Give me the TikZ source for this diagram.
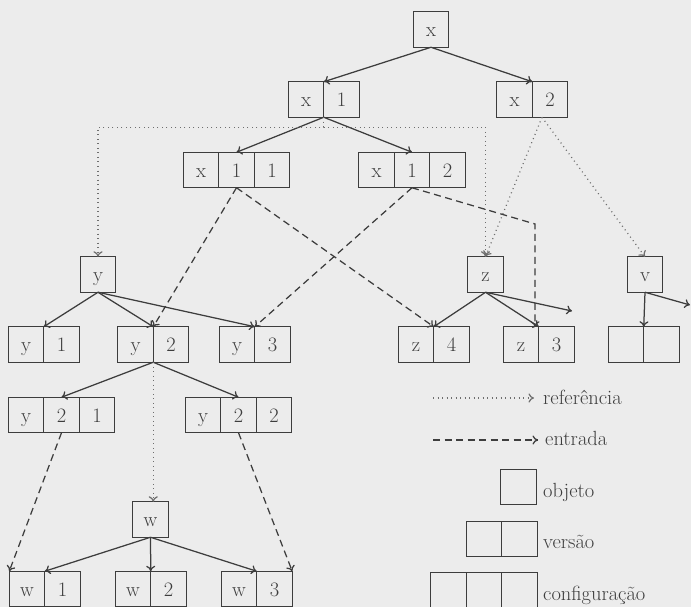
\documentclass[tikz,border=0pt]{standalone}
\usetikzlibrary{arrows.meta,calc}
\definecolor{paper}{gray}{0.925}
\definecolor{ink}{gray}{0.24}
\newcommand\cellfont{\fontsize{20.5}{24}\selectfont}
\begin{document}
\begin{tikzpicture}[x=1pt,y=-1pt,
  cell/.style={draw=ink, line width=1.4pt, minimum width=35.5pt, minimum height=35.5pt,
    inner sep=0pt, outer sep=0pt, text=ink, font=\cellfont, text height=14.4pt, text depth=0pt},
  nextcell/.style={cell, anchor=west},
  lbl/.style={anchor=base west, inner sep=0pt, text=ink, font=\cellfont},
  link/.style={draw=ink, line width=1.25pt, -{To[length=5.5pt,width=9pt]}},
  entry/.style={link, dash pattern=on 7pt off 4.5pt},
  refline/.style={link, draw=ink!75, line width=1.2pt, dash pattern=on 1pt off 3.5pt}]
\fill[paper] (0,0) rectangle (691,607);
\useasboundingbox (0,0) rectangle (691,607);

% object x, its versions and configurations
\node[cell] (x) at (431,29.5) {x};
\node[cell] (x1a) at (306,99.5) {x};   \node[nextcell] (x1b) at (x1a.east) {1};
\node[cell] (x2a) at (514.5,99.5) {x}; \node[nextcell] (x2b) at (x2a.east) {2};
\node[cell] (x11a) at (201,170) {x};   \node[nextcell] (x11b) at (x11a.east) {1};
\node[nextcell] (x11c) at (x11b.east) {1};
\node[cell] (x12a) at (376.5,170) {x}; \node[nextcell] (x12b) at (x12a.east) {1};
\node[nextcell] (x12c) at (x12b.east) {2};

% object y
\node[cell] (y) at (98,274.5) {y};
\node[cell] (y1a) at (26,344.5) {y};    \node[nextcell] (y1b) at (y1a.east) {1};
\node[cell] (y2a) at (135.5,344.5) {y}; \node[nextcell] (y2b) at (y2a.east) {2};
\node[cell] (y3a) at (237,344.5) {y};   \node[nextcell] (y3b) at (y3a.east) {3};
\node[cell] (y21a) at (26,415) {y};     \node[nextcell] (y21b) at (y21a.east) {2};
\node[nextcell] (y21c) at (y21b.east) {1};
\node[cell] (y22a) at (203,415) {y};    \node[nextcell] (y22b) at (y22a.east) {2};
\node[nextcell] (y22c) at (y22b.east) {2};

% object w
\node[cell] (w) at (150.5,519.5) {w};
\node[cell] (w1a) at (27,589) {w};  \node[nextcell] (w1b) at (w1a.east) {1};
\node[cell] (w2a) at (133,589) {w}; \node[nextcell] (w2b) at (w2a.east) {2};
\node[cell] (w3a) at (239,589) {w}; \node[nextcell] (w3b) at (w3a.east) {3};

% objects z and v
\node[cell] (z) at (485.5,274.5) {z};
\node[cell] (z4a) at (416,344.5) {z}; \node[nextcell] (z4b) at (z4a.east) {4};
\node[cell] (z3a) at (521,344.5) {z}; \node[nextcell] (z3b) at (z3a.east) {3};
\node[cell] (v) at (645,274.5) {v};
\node[cell] (vva) at (626,344.5) {}; \node[nextcell] (vvb) at (vva.east) {};

% legend
\coordinate (r0) at (433,398); \coordinate (r1) at (534,398);
\coordinate (e0) at (433,440); \coordinate (e1) at (538,440);
\node[lbl] (lref) at (543,404) {referência};
\node[lbl] (lent) at (545,445) {entrada};
\node[cell] (obj) at (518.5,487) {};
\node[lbl] (lobj) at (543,497) {objeto};
\node[cell] (vera) at (484,539) {}; \node[nextcell] (verb) at (vera.east) {};
\node[lbl] (lver) at (543,548) {versão};
\node[cell] (cfa) at (448.5,590.5) {}; \node[nextcell] (cfb) at (cfa.east) {};
\node[nextcell] (cfc) at (cfb.east) {};
\node[lbl] (lcf) at (543,600) {configuração};
\draw[refline] (r0) -- (r1);
\draw[entry] (e0) -- (e1);

% derivation arrows
\draw[link] (x.south) -- (x1a.north east);
\draw[link] (x.south) -- (x2a.north east);
\draw[link] (x1a.south east) -- (x11b.north);
\draw[link] (x1a.south east) -- (x12b.north);
\draw[link] (y.south) -- (y1a.north east);
\draw[link] (y.south) -- (y2a.north east);
\draw[link] (y.south) -- (y3a.north east);
\draw[link] (y2a.south east) -- (y21b.north);
\draw[link] (y2a.south east) -- (y22b.north);
\draw[link] (w.south) -- (w1a.north east);
\draw[link] (w.south) -- (w2a.north east);
\draw[link] (w.south) -- (w3a.north east);
\draw[link] (z.south) -- (z4a.north east);
\draw[link] (z.south) -- (z3a.north east);
\coordinate (zend) at (572,311);
\draw[link] (z.south) -- (zend);
\draw[link] (v.south) -- (vva.north east);
\coordinate (vend) at (690,305);
\draw[link] (v.south) -- (vend);

% entries of the configurations
\draw[entry] (x11b.south) -- (y2a.north east);
\draw[entry] (x11b.south) -- (z4a.north east);
\draw[entry] (x12b.south) -- (y3a.north east);
\coordinate (zc) at (535,224);
\draw[entry] (x12b.south) -- (zc) -- (zc |- z3a.north);
\draw[entry] (y21b.south) -- (w1a.north west);
\draw[entry] (y22b.south) -- (w3b.north east);

% references from versions to objects
\coordinate (xr) at ($(x1a.south east)+(0,10)$);
\draw[refline] (x1a.south east) -- (xr) -| (y.north);
\draw[refline] (xr) -| (z.north);
\coordinate (x2r) at ($(x2b.south)+(-8,0)$);
\draw[refline] (x2r) -- (z.north);
\draw[refline] (x2r) -- (v.north);
\draw[refline] (y2a.south east) -- (y2a.south east |- w.north);
\end{tikzpicture}
\end{document}
